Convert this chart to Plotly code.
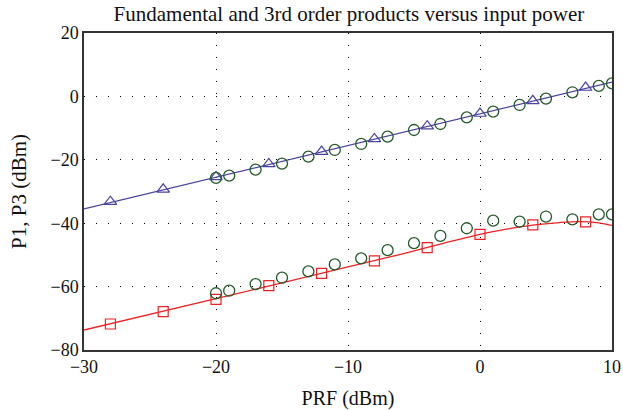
import plotly.graph_objects as go

# Fitted curves
fund_line_x = [-30, 10]
fund_line_y = [-35.5, 4.5]
im3_line_x = [-30, -20, -10, -6, -3, 0, 2, 4, 6, 7.5, 9, 10]
im3_line_y = [-73.7, -63.8, -53.8, -49.8, -46.6, -43.5, -41.9, -40.6, -39.8, -39.5, -39.9, -40.7]

# Simulated markers
sim_x = [-28, -24, -20, -16, -12, -8, -4, 0, 4, 8]
fund_sim = [-33.2, -29.3, -25.4, -21.3, -17.4, -13.4, -9.4, -5.4, -1.4, 2.8]
im3_sim = [-71.8, -67.9, -64.0, -59.7, -55.8, -51.9, -47.7, -43.5, -40.5, -39.6]

# Measured markers
meas_x = [-20, -19, -17, -15, -13, -11, -9, -7, -5, -3, -1, 1, 3, 5, 7, 9, 10]
fund_meas = [-25.7, -25.0, -23.1, -21.2, -19.0, -16.9, -15.0, -12.7, -10.6, -8.7,
             -6.6, -4.8, -2.7, -0.7, 1.3, 3.3, 4.1]
im3_meas = [-62.1, -61.3, -59.2, -57.2, -55.2, -53.0, -51.1, -48.5, -46.3, -44.0,
            -41.6, -39.2, -39.5, -37.9, -38.8, -37.2, -37.2]

blue = "#4a44a0"
red = "#ee2222"
green = "#235a2a"

fig = go.Figure()
fig.add_trace(go.Scatter(x=fund_line_x, y=fund_line_y, mode="lines",
                         line=dict(color=blue, width=1.3), showlegend=False))
fig.add_trace(go.Scatter(x=im3_line_x, y=im3_line_y, mode="lines",
                         line=dict(color=red, width=1.3, shape="spline"), showlegend=False))
fig.add_trace(go.Scatter(x=sim_x, y=fund_sim, mode="markers",
                         marker=dict(symbol="triangle-up-open", size=11, color=blue,
                                     line=dict(width=1.2, color=blue)), showlegend=False))
fig.add_trace(go.Scatter(x=sim_x, y=im3_sim, mode="markers",
                         marker=dict(symbol="square-open", size=10, color=red,
                                     line=dict(width=1.2, color=red)), showlegend=False))
fig.add_trace(go.Scatter(x=meas_x, y=fund_meas, mode="markers",
                         marker=dict(symbol="circle-open", size=11, color=green,
                                     line=dict(width=1.3, color=green)), showlegend=False))
fig.add_trace(go.Scatter(x=meas_x, y=im3_meas, mode="markers",
                         marker=dict(symbol="circle-open", size=11, color=green,
                                     line=dict(width=1.3, color=green)), showlegend=False))

serif = "Liberation Serif, DejaVu Serif, serif"
ink = "#111"

fig.update_layout(
    width=623, height=410,
    margin=dict(l=84, r=11, t=33, b=60, autoexpand=False),
    paper_bgcolor="white", plot_bgcolor="white",
    font=dict(family=serif, size=18, color=ink),
    title=dict(text="Fundamental and 3rd order products versus input power",
               x=0.56, xref="container", xanchor="center", y=0.966, yanchor="middle",
               font=dict(family=serif, size=21, color=ink)),
)
fig.update_xaxes(range=[-30, 10], tickvals=[-30, -20, -10, 0, 10],
                 tickfont=dict(family=serif, size=18, color=ink),
                 showgrid=True, gridcolor="#000", griddash="1px,11px", gridwidth=1.2,
                 showline=True, linecolor="#333", linewidth=1.5, mirror=True,
                 zeroline=False, ticks="", automargin=False,
                 title=dict(text="PRF (dBm)", standoff=16,
                            font=dict(family=serif, size=20, color=ink)))
fig.update_yaxes(range=[-80, 20], tickvals=[-80, -60, -40, -20, 0, 20],
                 tickfont=dict(family=serif, size=18, color=ink),
                 showgrid=True, gridcolor="#000", griddash="1px,11px", gridwidth=1.2,
                 showline=True, linecolor="#333", linewidth=1.5, mirror=True,
                 zeroline=False, ticks="", automargin=False,
                 title=dict(text="P1, P3 (dBm)", standoff=18,
                            font=dict(family=serif, size=21, color=ink)))

fig.write_html("out.html", config={"displayModeBar": False},
               post_script="document.body.style.margin='0';")
